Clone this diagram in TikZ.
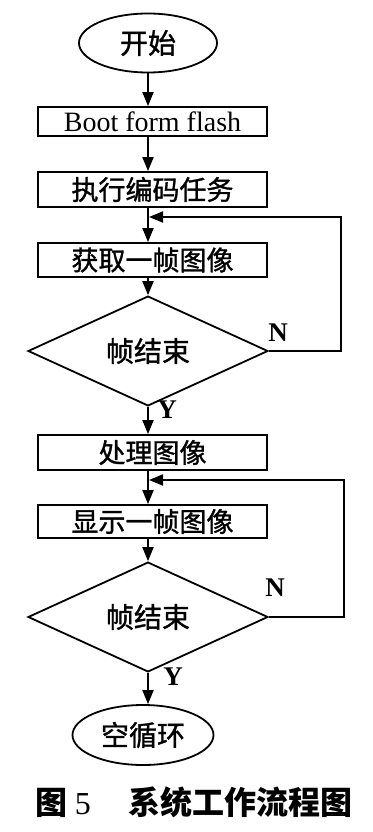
\documentclass[tikz,border=0pt]{standalone}
\usepackage{fontspec}
\setmainfont{Liberation Serif}
\newfontfamily\cjk[FakeBold=1.2]{Noto Sans CJK SC}
\newfontfamily\cjkcap{Noto Sans CJK SC}
\usetikzlibrary{shapes.geometric,arrows.meta}
\begin{document}
\begin{tikzpicture}[x=1pt,y=-1pt,line width=1.8pt,
  flowbox/.style={draw, rectangle, minimum width=229pt, inner sep=0pt, font=\cjk\fontsize{27}{27}\selectfont},
  term/.style={draw, ellipse, inner sep=0pt, font=\cjk\fontsize{28}{28}\selectfont},
  dec/.style={draw, diamond, minimum width=240pt, minimum height=84pt, inner sep=0pt, font=\cjk\fontsize{28}{28}\selectfont},
  arr/.style={-{Triangle[length=14pt,width=11pt]}},
  lbl/.style={font=\bfseries\fontsize{27}{27}\selectfont, inner sep=0pt}]
\useasboundingbox (0,0) rectangle (372,832);
\node[term, minimum width=138pt, minimum height=59pt] (start) at (148,43) {开始};
\node[flowbox, minimum height=29pt, font=\fontsize{28}{28}\selectfont] (box1) at (152.5,121.5) {Boot form flash};
\node[flowbox, minimum height=35pt] (box2) at (152.5,189.5) {执行编码任务};
\node[flowbox, minimum height=34pt] (box3) at (152.5,260) {获取一帧图像};
\node[dec] (d1) at (148,351) {帧结束};
\node[flowbox, minimum height=35pt] (box4) at (152.5,452.5) {处理图像};
\node[flowbox, minimum height=33pt] (box5) at (152.5,521.5) {显示一帧图像};
\node[dec, minimum height=83pt] (d2) at (148,617) {帧结束};
\node[term, minimum width=141pt, minimum height=60pt] (end) at (143,735) {空循环};
\coordinate (j1) at (149,217);
\coordinate (j2) at (149,480);
\draw[arr] (start.south) -- (start.south |- box1.north);
\draw[arr] (box1.south -| start) -- (box2.north -| start);
\draw[arr] (box2.south -| start) -- (box3.north -| start);
\draw[arr] (box3.south -| start) -- (d1.north);
\draw[arr] (d1.south) -- (d1.south |- box4.north);
\draw[arr] (box4.south -| start) -- (box5.north -| start);
\draw[arr] (box5.south -| start) -- (d2.north);
\draw[arr] (d2.south) -- (d2.south |- end.north);
\draw[arr] (d1.east) -- ++(72,0) |- (j1);
\draw[arr] (d2.east) -- ++(75,0) |- (j2);
\node[lbl] (n1) at (278,333) {N};
\node[lbl] (y1) at (167,410) {Y};
\node[lbl] (n2) at (275,588) {N};
\node[lbl] (y2) at (173,677) {Y};
\node[anchor=west, inner sep=0pt] (cap) at (35,802) {{\cjkcap\bfseries\fontsize{32}{32}\selectfont 图}\hspace{7pt}{\fontsize{32}{32}\selectfont 5}\hspace{38pt}{\cjkcap\bfseries\fontsize{32}{32}\selectfont 系统工作流程图}};
\end{tikzpicture}
\end{document}
